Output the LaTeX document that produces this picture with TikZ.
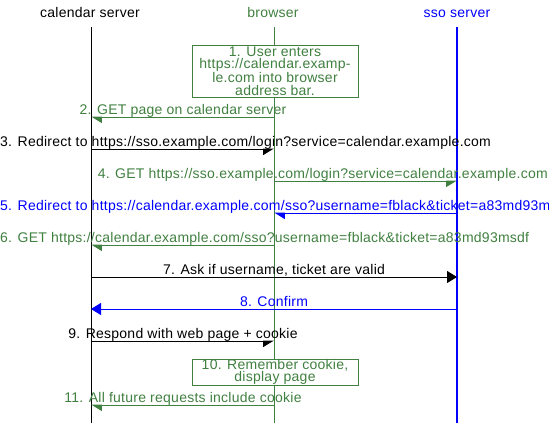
\documentclass[tikz,border=0pt]{standalone}
\usepackage{fontspec}
\setmainfont[LetterSpace=1.8]{Liberation Sans}
\usetikzlibrary{arrows.meta}
\definecolor{grn}{RGB}{64,128,64}
\definecolor{blu}{RGB}{0,0,255}
\begin{document}
\begin{tikzpicture}[x=1pt,y=-1pt,
  every node/.style={font=\fontsize{14}{12.7}\selectfont, inner sep=0pt},
  lab/.style={anchor=base},
  halfR/.style={-{Triangle[harpoon,swap,length=10pt,width=12pt]}},
  halfL/.style={-{Triangle[harpoon,length=10pt,width=12pt]}},
  full/.style={-{Triangle[length=10pt,width=12pt]}},
  msg/.style={line width=1pt},
  life/.style={line width=1pt},
  note/.style={draw=grn, fill=white, text=grn, align=center, line width=1pt, minimum width=166pt}
]
\useasboundingbox (0,0) rectangle (549,423);
% headers
\node[lab] (hc) at (90,17) {calendar server};
\node[lab, text=grn] (hb) at (273,17) {browser};
\node[lab, text=blu] (hs) at (457,17) {sso server};
% lifelines
\coordinate (ct) at (91,27); \coordinate (cb) at (91,423);
\coordinate (bt) at (274,27); \coordinate (bb) at (274,423);
\coordinate (st) at (457,27); \coordinate (sb) at (457,423);
\draw[life] (ct) -- (cb);
\draw[life, grn, line width=0.8pt] (bt) -- (bb);
\draw[life, blu, line width=1.2pt] (st) -- (sb);
% notes
\node[note, minimum height=52pt] (n1) at (275,71) {1. User enters\\https://calendar.examp-\\le.com into browser\\address bar.};
\node[note, minimum height=26pt] (n10) at (275,372) {10. Remember cookie,\\display page};
% message end points
\coordinate (c2) at (91,117); \coordinate (b2) at (274,117);
\coordinate (c3) at (91,149); \coordinate (b3) at (274,149);
\coordinate (b4) at (274,181); \coordinate (s4) at (457,181);
\coordinate (b5) at (274,213); \coordinate (s5) at (457,213);
\coordinate (c6) at (91,245); \coordinate (b6) at (274,245);
\coordinate (c7) at (91,277); \coordinate (s7) at (457,277);
\coordinate (c8) at (91,309); \coordinate (s8) at (457,309);
\coordinate (c9) at (91,341); \coordinate (b9) at (274,341);
\coordinate (c11) at (91,405); \coordinate (b11) at (274,405);
% messages
\draw[msg, grn, halfL] (b2) -- (c2);
\draw[msg, halfR] (c3) -- (b3);
\draw[msg, grn, halfR] (b4) -- (s4);
\draw[msg, blu, halfL] (s5) -- (b5);
\draw[msg, grn, halfL] (b6) -- (c6);
\draw[msg, full] (c7) -- (s7);
\draw[msg, blu, full] (s8) -- (c8);
\draw[msg, halfR] (c9) -- (b9);
\draw[msg, grn, halfL] (b11) -- (c11);
% labels
\node[lab, text=grn] (l2) at (183,114) {2. GET page on calendar server};
\node[anchor=base west] (l3) at (0,146) {3. Redirect to https://sso.example.com/login?service=calendar.example.com};
\node[anchor=base east, text=grn] (l4) at (548,178) {4. GET https://sso.example.com/login?service=calendar.example.com};
\node[anchor=base west, text=blu] (l5) at (0,210) {5. Redirect to https://calendar.example.com/sso?username=fblack\&ticket=a83md93msdf};
\node[anchor=base west, text=grn] (l6) at (0,242) {6. GET https://calendar.example.com/sso?username=fblack\&ticket=a83md93msdf};
\node[lab] (l7) at (274,274) {7. Ask if username, ticket are valid};
\node[lab, text=blu] (l8) at (274,306) {8. Confirm};
\node[lab] (l9) at (183,338) {9. Respond with web page + cookie};
\node[lab, text=grn] (l11) at (183,402) {11. All future requests include cookie};
\end{tikzpicture}
\end{document}
